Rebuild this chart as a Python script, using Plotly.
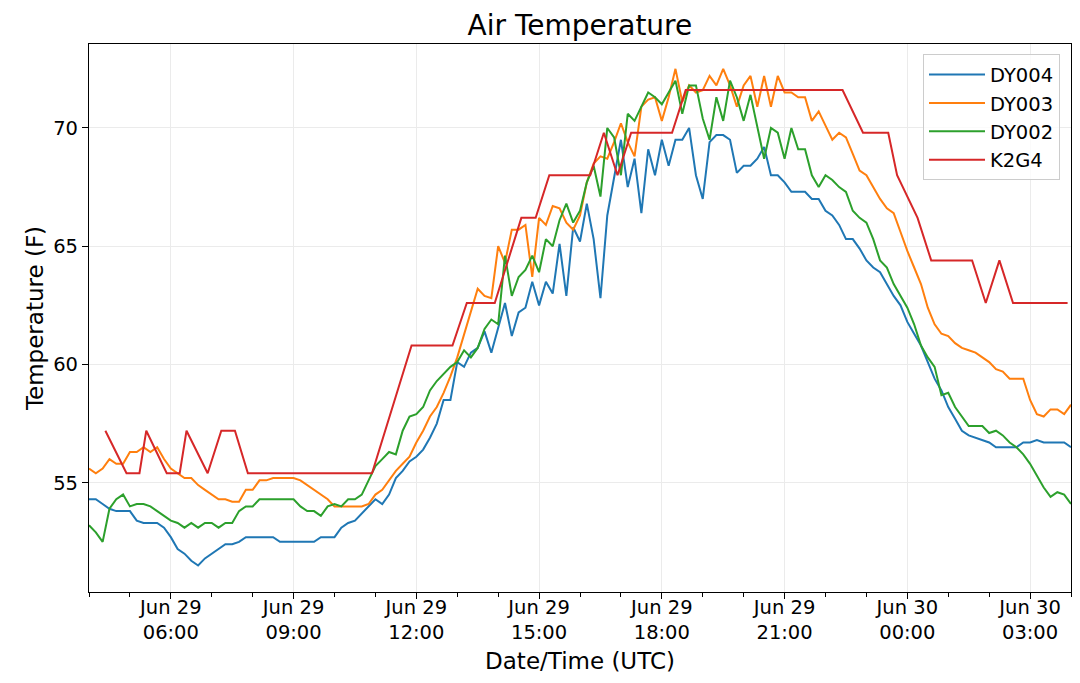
import pandas as pd
import plotly.graph_objects as go

# 10-minute sensor readings, Jun 29 04:00 UTC -> Jun 30 04:00 UTC
START = "2019-06-29 04:00"
END = "2019-06-30 04:00"
times = pd.date_range(START, END, freq="10min")

dy004 = [
    54.3, 54.3, 54.1, 53.9, 53.8, 53.8, 53.8, 53.4, 53.3, 53.3,
    53.3, 53.1, 52.7, 52.2, 52.0, 51.7, 51.5, 51.8, 52.0, 52.2,
    52.4, 52.4, 52.5, 52.7, 52.7, 52.7, 52.7, 52.7, 52.5, 52.5,
    52.5, 52.5, 52.5, 52.5, 52.7, 52.7, 52.7, 53.1, 53.3, 53.4,
    53.7, 54.0, 54.3, 54.1, 54.5, 55.2, 55.5, 55.9, 56.1, 56.4,
    56.9, 57.5, 58.5, 58.5, 60.1, 59.9, 60.5, 60.7, 61.4, 60.5,
    61.5, 62.6, 61.2, 62.2, 62.4, 63.5, 62.5, 63.5, 63.0, 65.1,
    62.9, 65.8, 65.2, 66.8, 65.3, 62.8, 66.3, 67.9, 69.5, 67.5,
    68.7, 66.4, 69.1, 68.0, 69.5, 68.4, 69.5, 69.5, 70.0, 68.0,
    67.0, 69.4, 69.7, 69.7, 69.5, 68.1, 68.4, 68.4, 68.7, 69.2,
    68.0, 68.0, 67.7, 67.3, 67.3, 67.3, 67.0, 67.0, 66.5, 66.3,
    65.9, 65.3, 65.3, 64.9, 64.4, 64.1, 63.9, 63.4, 62.9, 62.5,
    61.8, 61.3, 60.8, 60.1, 59.4, 58.9, 58.2, 57.7, 57.2, 57.0,
    56.9, 56.8, 56.7, 56.5, 56.5, 56.5, 56.5, 56.7, 56.7, 56.8,
    56.7, 56.7, 56.7, 56.7, 56.5,
]

dy003 = [
    55.6, 55.4, 55.6, 56.0, 55.8, 55.8, 56.3, 56.3, 56.5, 56.3,
    56.5, 56.0, 55.6, 55.4, 55.2, 55.2, 54.9, 54.7, 54.5, 54.3,
    54.3, 54.2, 54.2, 54.7, 54.7, 55.1, 55.1, 55.2, 55.2, 55.2,
    55.2, 55.1, 54.9, 54.7, 54.5, 54.3, 54.0, 54.0, 54.0, 54.0,
    54.0, 54.1, 54.5, 54.7, 55.1, 55.5, 55.8, 56.1, 56.7, 57.2,
    57.8, 58.2, 58.8, 59.5, 60.3, 61.3, 62.2, 63.2, 62.9, 62.8,
    65.0, 64.3, 65.7, 65.7, 65.9, 63.7, 66.2, 65.9, 66.7, 66.6,
    66.0, 65.7, 66.3, 67.7, 68.5, 68.8, 68.7, 69.4, 70.2, 69.4,
    68.8, 70.9, 71.2, 71.3, 70.3, 71.3, 72.5, 71.1, 71.8, 71.5,
    71.6, 72.2, 71.8, 72.5, 71.8, 70.9, 71.8, 72.2, 70.9, 72.2,
    70.9, 72.2, 71.5, 71.5, 71.3, 71.3, 70.3, 70.7, 70.1, 69.5,
    69.8, 69.6, 68.9, 68.2, 68.0, 67.5, 67.0, 66.6, 66.4, 65.6,
    64.8, 64.1, 63.4, 62.4, 61.7, 61.3, 61.2, 60.9, 60.7, 60.6,
    60.5, 60.3, 60.1, 59.8, 59.7, 59.4, 59.4, 59.4, 58.5, 57.9,
    57.8, 58.1, 58.1, 57.9, 58.3,
]

dy002 = [
    53.2, 52.9, 52.5, 53.9, 54.3, 54.5, 54.0, 54.1, 54.1, 54.0,
    53.8, 53.6, 53.4, 53.3, 53.1, 53.3, 53.1, 53.3, 53.3, 53.1,
    53.3, 53.3, 53.8, 54.0, 54.0, 54.3, 54.3, 54.3, 54.3, 54.3,
    54.3, 54.0, 53.8, 53.8, 53.6, 54.0, 54.1, 54.0, 54.3, 54.3,
    54.5, 55.1, 55.7, 56.0, 56.3, 56.2, 57.2, 57.8, 57.9, 58.2,
    58.9, 59.3, 59.6, 59.9, 60.1, 60.6, 60.3, 60.7, 61.5, 61.9,
    61.7, 64.6, 62.9, 63.7, 64.0, 64.6, 63.9, 65.3, 65.0, 66.1,
    66.8, 66.0, 66.5, 67.7, 68.4, 67.1, 70.0, 69.6, 68.0, 70.6,
    70.3, 70.9, 71.5, 71.3, 71.0, 71.5, 72.0, 70.6, 71.8, 71.8,
    70.4, 69.5, 71.3, 70.3, 72.0, 71.3, 70.3, 71.4, 70.1, 68.7,
    70.0, 69.8, 68.7, 70.0, 69.1, 69.1, 68.0, 67.5, 68.0, 67.8,
    67.5, 67.3, 66.5, 66.2, 66.0, 65.3, 64.4, 64.1, 63.4, 62.9,
    62.4, 61.7, 60.8, 60.3, 59.9, 58.7, 58.8, 58.2, 57.8, 57.4,
    57.4, 57.4, 57.1, 57.2, 57.0, 56.7, 56.5, 56.2, 55.8, 55.3,
    54.8, 54.4, 54.6, 54.5, 54.1,
]

# airport station, irregular report times
k2g4_times = [
    "2019-06-29 04:24", "2019-06-29 04:55", "2019-06-29 05:14", "2019-06-29 05:24",
    "2019-06-29 05:54", "2019-06-29 06:13", "2019-06-29 06:23", "2019-06-29 06:54",
    "2019-06-29 07:14", "2019-06-29 07:34", "2019-06-29 07:53", "2019-06-29 10:55",
    "2019-06-29 11:53", "2019-06-29 12:53", "2019-06-29 13:14", "2019-06-29 13:55",
    "2019-06-29 14:34", "2019-06-29 14:55", "2019-06-29 15:15", "2019-06-29 16:15",
    "2019-06-29 16:35", "2019-06-29 16:55", "2019-06-29 17:15", "2019-06-29 18:15",
    "2019-06-29 18:35", "2019-06-29 22:25", "2019-06-29 22:55", "2019-06-29 23:32",
    "2019-06-29 23:45", "2019-06-30 00:15", "2019-06-30 00:35", "2019-06-30 01:35",
    "2019-06-30 01:55", "2019-06-30 02:15", "2019-06-30 02:35", "2019-06-30 03:55",
]
k2g4 = [
    57.2, 55.4, 55.4, 57.2,
    55.4, 55.4, 57.2, 55.4,
    57.2, 57.2, 55.4, 55.4,
    60.8, 60.8, 62.6, 62.6,
    66.2, 66.2, 68.0, 68.0,
    69.8, 68.0, 69.8, 69.8,
    71.6, 71.6, 69.8, 69.8,
    68.0, 66.2, 64.4, 64.4,
    62.6, 64.4, 62.6, 62.6,
]

tick_times = pd.date_range("2019-06-29 06:00", "2019-06-30 03:00", freq="3h")
tick_text = [t.strftime("%b %d") + "<br>" + t.strftime("%H:%M") for t in tick_times]

FONT = "DejaVu Sans"

fig = go.Figure()
series = [
    ("DY004", times, dy004, "#1f77b4"),
    ("DY003", times, dy003, "#ff7f0e"),
    ("DY002", times, dy002, "#2ca02c"),
    ("K2G4", pd.to_datetime(k2g4_times), k2g4, "#d62728"),
]
for name, x, y, color in series:
    fig.add_trace(go.Scatter(x=x, y=y, mode="lines", name=name,
                             line=dict(color=color, width=2)))

# the page body adds an 8px offset, so the figure is a bit smaller than the window
fig.update_layout(
    width=1064, height=667,
    margin=dict(l=81, r=1, t=36, b=83, autoexpand=False),
    paper_bgcolor="white", plot_bgcolor="white",
    font=dict(family=FONT, size=19.5, color="black"),
    title=dict(text="Air Temperature", x=0.5375, xanchor="center", y=0.9745, yanchor="middle",
               font=dict(size=28, family=FONT)),
    legend=dict(x=0.9888, y=0.981, xanchor="right", yanchor="top",
                bgcolor="rgba(255,255,255,0.8)", bordercolor="#cccccc", borderwidth=1,
                font=dict(size=19.5, family=FONT), itemwidth=56,
                entrywidth=98, entrywidthmode="pixels"),
    showlegend=True,
)

fig.update_xaxes(
    type="date", range=[START, END], automargin=False,
    tickvals=tick_times, ticktext=tick_text, ticklabelstandoff=-9,
    ticks="outside", ticklen=6, tickwidth=1.2, tickcolor="black",
    showgrid=True, gridcolor="#ebebeb", gridwidth=1.2,
    showline=True, linecolor="black", linewidth=1.2, mirror=True,
    minor=dict(dtick=3600000, tick0="2019-06-29 04:00", ticks="outside", ticklen=3.5,
               tickcolor="black", showgrid=False),
    title=dict(text="Date/Time (UTC)", font=dict(size=23, family=FONT), standoff=10),
    zeroline=False,
)
fig.update_yaxes(
    range=[50.38, 73.55], tick0=55, dtick=5, automargin=False,
    ticks="outside", ticklen=6, tickwidth=1.2, tickcolor="black",
    showgrid=True, gridcolor="#ebebeb", gridwidth=1.2,
    showline=True, linecolor="black", linewidth=1.2, mirror=True,
    title=dict(text="Temperature (F)", font=dict(size=23, family=FONT), standoff=3),
    zeroline=False,
)

fig.write_html("out.html")
